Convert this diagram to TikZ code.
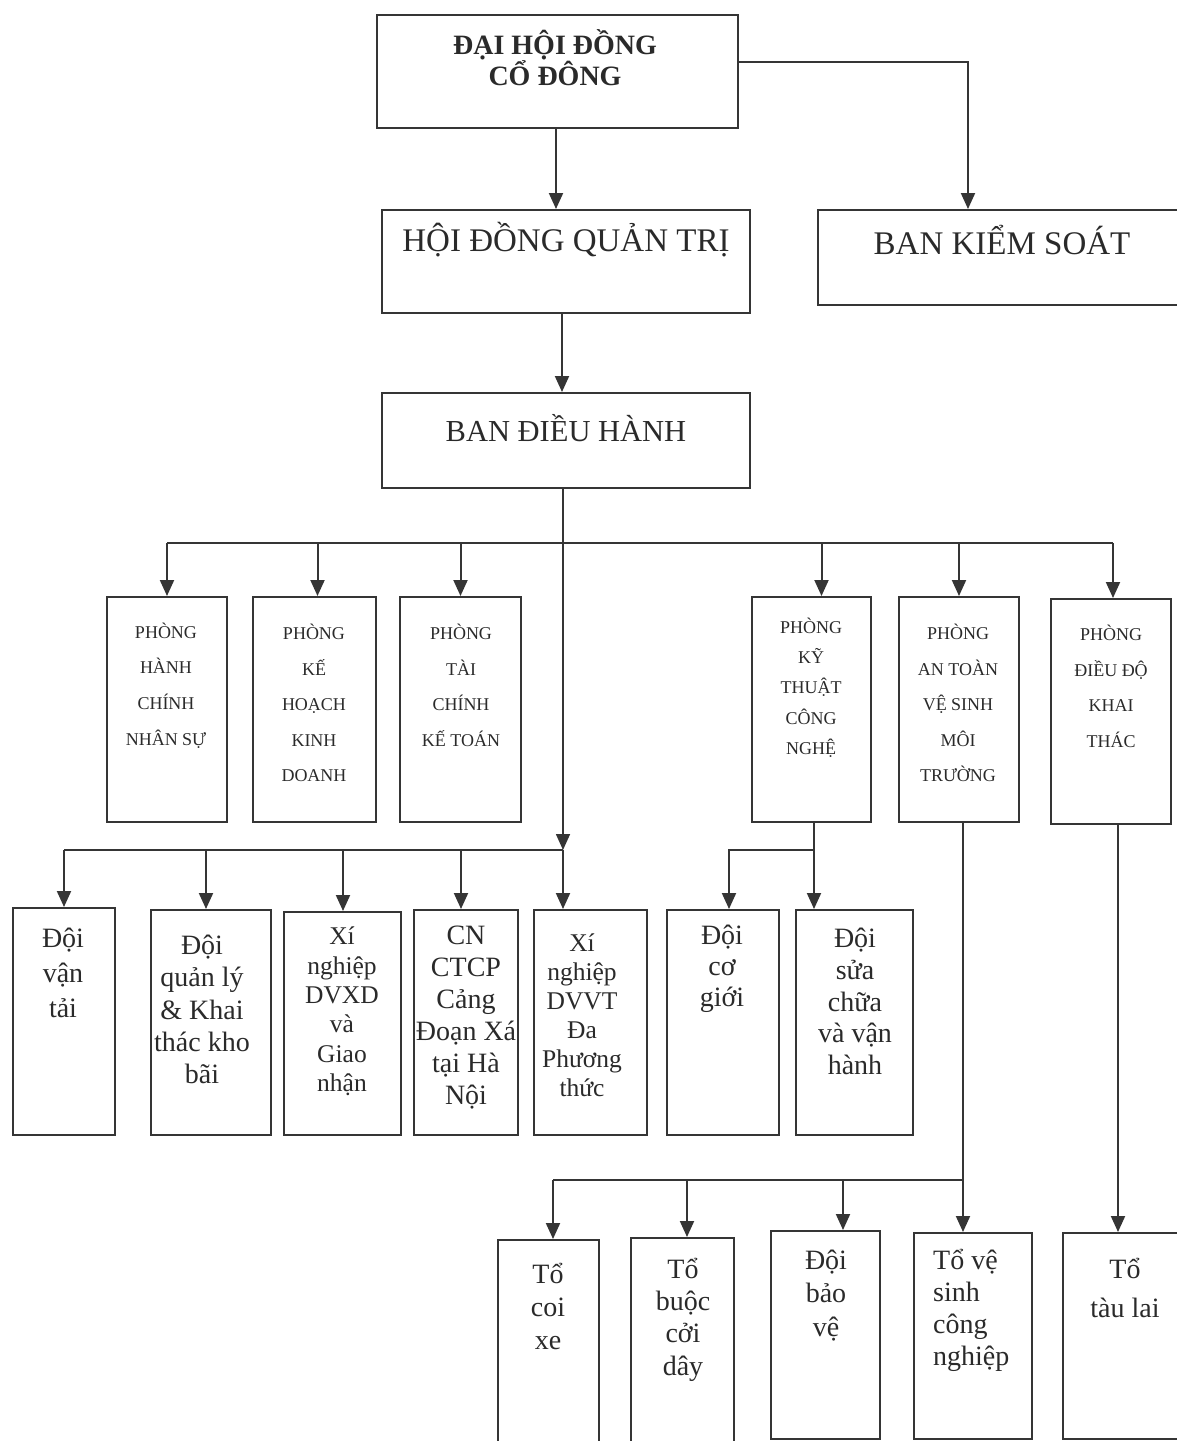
\documentclass[tikz,border=0pt]{standalone}
\usepackage{fontspec}
\setmainfont{Liberation Serif}
\usetikzlibrary{arrows.meta}
\definecolor{linec}{HTML}{353535}
\definecolor{textc}{HTML}{2A2A2A}
\tikzset{
  bx/.style={draw=linec,line width=2pt,inner sep=0pt,rectangle},
  txt/.style={inner sep=0pt,text=textc,align=center},
  arr/.style={draw=linec,line width=2pt,-{Triangle[width=14pt,length=16pt]}},
  ln/.style={draw=linec,line width=2pt},
}
\newcommand\obox[5]{\node[bx,minimum width={(#4-#2)*1pt},minimum height={(#5-#3)*1pt}] (#1) at ({(#2+#4)/2},{(#3+#5)/2}) {};}
\newcommand\fs[2]{\fontsize{#1}{#2}\selectfont}
\begin{document}
\begin{tikzpicture}[x=1pt,y=-1pt]
\useasboundingbox (0,0) rectangle (1176,1441);
% ---------- boxes ----------
\obox{dh}{377}{15}{738}{128}
\obox{hd}{382}{210}{750}{313}
\obox{bks}{818}{210}{1190}{305}
\obox{bdh}{382}{393}{750}{488}
\obox{pa}{107}{597}{227}{822}
\obox{pb}{253}{597}{376}{822}
\obox{pc}{400}{597}{521}{822}
\obox{pd}{752}{597}{871}{822}
\obox{pe}{899}{597}{1019}{822}
\obox{pf}{1051}{599}{1171}{824}
\obox{ba}{13}{908}{115}{1135}
\obox{bb}{151}{910}{271}{1135}
\obox{bc}{284}{912}{401}{1135}
\obox{bd}{414}{910}{518}{1135}
\obox{be}{534}{910}{647}{1135}
\obox{bf}{667}{910}{779}{1135}
\obox{bg}{796}{910}{913}{1135}
\obox{ta}{498}{1240}{599}{1450}
\obox{tb}{631}{1238}{734}{1450}
\obox{tc}{771}{1231}{880}{1439}
\obox{td}{914}{1233}{1032}{1439}
\obox{te}{1063}{1233}{1190}{1439}
% ---------- texts ----------
\node[txt,font=\fs{28}{31}\bfseries] (tdh) at (555,57.5) {ĐẠI HỘI ĐỒNG\\CỔ ĐÔNG};
\node[txt,font=\fs{33}{38}] (thd) at (566,240) {HỘI ĐỒNG QUẢN TRỊ};
\node[txt,font=\fs{33}{38}] (tbks) at (1002,240) {BAN KIỂM SOÁT};
\node[txt,font=\fs{30.5}{36}] (tbdh) at (566,428) {BAN ĐIỀU HÀNH};
\node[txt,font=\fs{18}{35.6}] (tpa) at (166,685.5) {PHÒNG\\HÀNH\\CHÍNH\\NHÂN SỰ};
\node[txt,font=\fs{18}{35.5}] (tpb) at (314,703) {PHÒNG\\KẾ\\HOẠCH\\KINH\\DOANH};
\node[txt,font=\fs{18}{35.6}] (tpc) at (461,685.5) {PHÒNG\\TÀI\\CHÍNH\\KẾ TOÁN};
\node[txt,font=\fs{18}{30.3}] (tpd) at (811,687.5) {PHÒNG\\KỸ\\THUẬT\\CÔNG\\NGHỆ};
\node[txt,font=\fs{18}{35.5}] (tpe) at (958,703) {PHÒNG\\AN TOÀN\\VỆ SINH\\MÔI\\TRƯỜNG};
\node[txt,font=\fs{18}{35.7}] (tpf) at (1111,686.5) {PHÒNG\\ĐIỀU ĐỘ\\KHAI\\THÁC};
\node[txt,font=\fs{28}{35}] (tba) at (63,973) {Đội\\vận\\tải};
\node[txt,font=\fs{28}{32.3}] (tbb) at (202,1009.5) {Đội\\quản lý\\\& Khai\\thác kho\\bãi};
\node[txt,font=\fs{25.5}{29.4}] (tbc) at (342,1011.5) {Xí\\nghiệp\\DVXD\\và\\Giao\\nhận};
\node[txt,font=\fs{28}{32}] (tbd) at (466,1018) {CN\\CTCP\\Cảng\\Đoạn Xá\\tại Hà\\Nội};
\node[txt,font=\fs{25.5}{29}] (tbe) at (582,1015.5) {Xí\\nghiệp\\DVVT\\Đa\\Phương\\thức};
\node[txt,font=\fs{28}{31}] (tbf) at (722,969) {Đội\\cơ\\giới};
\node[txt,font=\fs{28}{31.75}] (tbg) at (855,1001.5) {Đội\\sửa\\chữa\\và vận\\hành};
\node[txt,font=\fs{28}{33}] (tta) at (548,1306) {Tổ\\coi\\xe};
\node[txt,font=\fs{28}{32.3}] (ttb) at (683,1319.5) {Tổ\\buộc\\cởi\\dây};
\node[txt,font=\fs{28}{33.5}] (ttc) at (826,1295.5) {Đội\\bảo\\vệ};
\node[txt,font=\fs{28}{32},align=left,anchor=west] (ttd) at (933,1310) {Tổ vệ\\sinh\\công\\nghiệp};
\node[txt,font=\fs{28}{39}] (tte) at (1125,1287.5) {Tổ\\tàu lai};
% ---------- connectors ----------
\draw[arr] ([xshift=-1.5pt]dh.south) -- ([xshift=-1.5pt]dh.south |- hd.north);
\draw[arr] ([yshift=9.5pt]dh.east) -| ([xshift=-36pt]bks.north);
\draw[arr] ([xshift=-4pt]hd.south) -- ([xshift=-4pt]hd.south |- bdh.north);
\coordinate (j1) at (563,543);
\coordinate (j2) at (563,850);
\draw[ln,line width=1.6pt] ([xshift=-3pt]bdh.south) -- (j1);
\draw[arr,line width=1.6pt] (j1) -- (j2);
\draw[ln] (pa.north |- j1) -- ([xshift=2pt]pf.north |- j1);
\draw[arr] (pa.north |- j1) -- (pa.north);
\draw[arr] ([xshift=3pt]pb.north |- j1) -- ([xshift=3pt]pb.north);
\draw[arr] (pc.north |- j1) -- (pc.north);
\draw[arr] ([xshift=10pt]pd.north |- j1) -- ([xshift=10pt]pd.north);
\draw[arr] (pe.north |- j1) -- (pe.north);
\draw[arr] ([xshift=2pt]pf.north |- j1) -- ([xshift=2pt]pf.north);
\draw[ln] (ba.north |- j2) -- (j2);
\draw[arr] (ba.north |- j2) -- (ba.north);
\draw[arr] ([xshift=-5pt]bb.north |- j2) -- ([xshift=-5pt]bb.north);
\draw[arr] ([xshift=0.5pt]bc.north |- j2) -- ([xshift=0.5pt]bc.north);
\draw[arr] ([xshift=-5pt]bd.north |- j2) -- ([xshift=-5pt]bd.north);
\draw[arr] (j2) -- (j2 |- be.north);
% P4 -> B6, B7
\coordinate (j3) at (814,850);
\draw[arr] ([xshift=2.5pt]pd.south) -- (j3 |- bg.north);
\draw[arr] (j3) -| ([xshift=6pt]bf.north);
% P5 -> row 3
\coordinate (j4) at (963,1180);
\draw[arr] ([xshift=4pt]pe.south) -- (j4 |- td.north);
\draw[ln] (j4) -- ([xshift=4.5pt]ta.north |- j4);
\draw[arr] ([xshift=4.5pt]ta.north |- j4) -- ([xshift=4.5pt]ta.north);
\draw[arr] ([xshift=4.5pt]tb.north |- j4) -- ([xshift=4.5pt]tb.north);
\draw[arr] ([xshift=17.5pt]tc.north |- j4) -- ([xshift=17.5pt]tc.north);
% P6 -> T5
\draw[arr] ([xshift=7pt]pf.south) -- ([xshift=7pt]pf.south |- te.north);
\end{tikzpicture}
\end{document}
